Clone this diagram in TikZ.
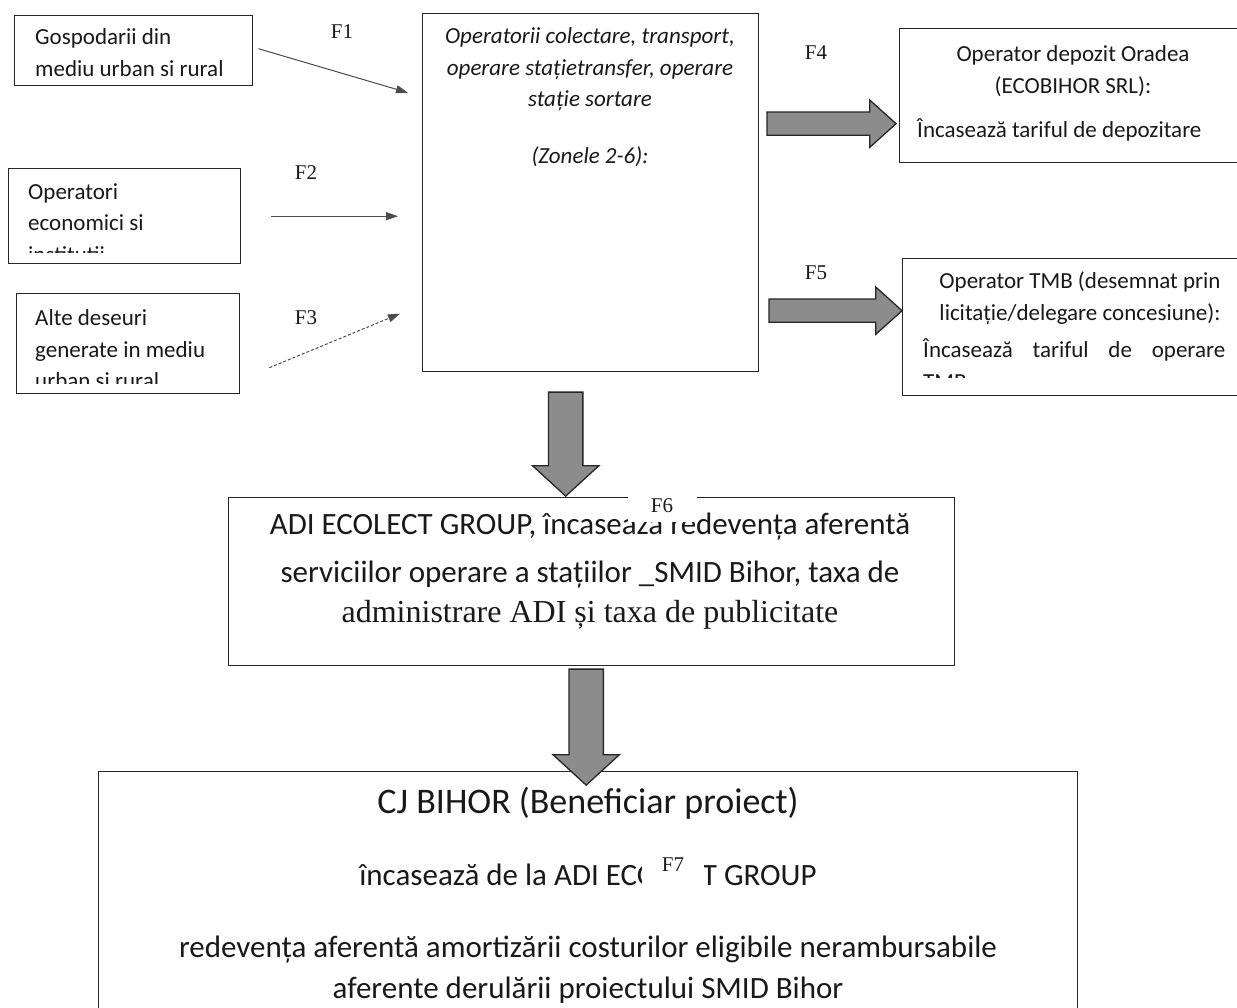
\documentclass[tikz,border=0pt]{standalone}
\usepackage{fontspec}
\setmainfont{Carlito}
\newfontfamily\timesfont{Liberation Serif}
\usetikzlibrary{positioning, calc, arrows.meta, shapes.arrows}

\tikzset{
  box/.style = {draw=black!85, line width=1.4pt, rectangle, inner sep=0pt, anchor=north west},
  txt/.style = {font=\fontsize{23}{31.5}\selectfont, inner sep=0pt, text=black!90},
  flabel/.style = {font=\timesfont\fontsize{21}{21}\selectfont, inner sep=0pt, text=black!90},
  flow/.style = {draw=black!70, line width=1pt, -{Triangle[length=12pt, width=8pt]}},
  fat/.style = {single arrow, draw=black!85, line width=1.3pt, fill=black!45, inner xsep=0pt, single arrow head indent=0pt},
  fatside/.style = {fat, inner ysep=11pt, single arrow head extend=12pt, single arrow tip angle=84},
  fatdown/.style = {fat, rotate=-90, inner ysep=16.5pt, single arrow head extend=16pt, single arrow tip angle=95},
}

\begin{document}
\begin{tikzpicture}[x=1pt, y=-1pt]
\useasboundingbox[fill=white] (0,0) rectangle (1237,1008);

% boxes
\node[box, minimum width=238pt, minimum height=70pt] (gosp) at (14,15) {};
\node[box, minimum width=232pt, minimum height=95pt] (econ) at (8,168) {};
\node[box, minimum width=223pt, minimum height=100pt] (alte) at (16,293) {};
\node[box, minimum width=336pt, minimum height=358pt] (oper) at (422,13) {};
\node[box, minimum width=346pt, minimum height=134pt] (depozit) at (899,28) {};
\node[box, minimum width=346pt, minimum height=137pt] (tmb) at (902,258) {};
\node[box, minimum width=726pt, minimum height=168pt] (adi) at (228,497) {};
\node[box, minimum width=979pt, minimum height=260pt] (cj) at (98,771) {};

% texts
\node[txt, align=left, anchor=west] (gosptxt) at (35,52.5) {Gospodarii din\\mediu urban si rural};
\begin{scope}
  \clip (econ.north west) rectangle ($(econ.south east)+(0,-12)$);
  \node[txt, align=left, anchor=west] (econtxt) at (28,223) {Operatori\\economici si\\institutii};
\end{scope}
\begin{scope}
  \clip (alte.north west) rectangle ($(alte.south east)+(0,-11)$);
  \node[txt, align=left, anchor=west] (altetxt) at (35,349.5) {Alte deseuri\\generate in mediu\\urban si rural};
\end{scope}
\node[txt, font=\itshape\fontsize{23}{31.5}\selectfont, align=center] (opertxt) at (590,97)
  {Operatorii colectare, transport,\\operare stațietransfer, operare\\stație sortare\\[25pt](Zonele 2-6):};
\node[txt, align=center] (depotitle) at (1073,71) {Operator depozit Oradea\\(ECOBIHOR SRL):};
\node[txt, anchor=west] (depotxt) at (917,130) {Încasează tariful de depozitare};
\node[txt, align=center] (tmbtitle) at (1080,298) {Operator TMB (desemnat prin\\licitație/delegare concesiune):};
\begin{scope}
  \clip (tmb.north west) rectangle ($(tmb.south east)+(0,-19)$);
  \node[txt, align=left, anchor=west] (tmbtxt) at (923,364) {\makebox[302pt][s]{Încasează tariful de operare}\\TMB};
\end{scope}
\node[txt, font=\fontsize{31}{48}\selectfont, align=center] (aditxt) at (590,571)
  {ADI ECOLECT GROUP, încasează redevența aferentă\\serviciilor operare a stațiilor \_SMID Bihor, taxa de\\[-8pt]{\timesfont\fontsize{32}{40}\selectfont administrare ADI și taxa de publicitate}};
\node[txt, font=\fontsize{31}{41}\selectfont, align=center] (cjtxt) at (588,895.5)
  {{\fontsize{36}{41}\selectfont CJ BIHOR (Beneficiar proiect)}\\[31pt]încasează de la ADI ECOLECT GROUP\\[31pt]redevența aferentă amortizării costurilor eligibile nerambursabile\\aferente derulării proiectului SMID Bihor};

% thin arrows F1-F3
\draw[flow] ($(gosp.east)+(5,-2)$) -- ($(oper.west)+(-14,-100)$);
\draw[flow, shorten <=30pt, shorten >=24pt] (econ.east) -- (econ.east -| oper.west);
\draw[flow, dash pattern=on 3pt off 2pt] ($(alte.east)+(29,24)$) -- ($(oper.west)+(-22,121)$);

% fat arrows F4-F7
\node[fatside, minimum height=129pt, anchor=tip] (f4arrow) at ($(depozit.west)+(-2,28)$) {};
\node[fatside, minimum height=133pt, anchor=tip] (f5arrow) at ($(tmb.west)+(1,-16.5)$) {};
\node[fatdown, minimum height=104pt, anchor=tip] (f6arrow) at ($(adi.north)+(-26,0)$) {};
\node[fatdown, minimum height=116pt, anchor=tip] (f7arrow) at ($(cj.north)+(-2,15)$) {};

% labels
\node[flabel] (f1) at (342,32) {F1};
\node[flabel] (f2) at (306,173) {F2};
\node[flabel] (f3) at (306,318) {F3};
\node[flabel] (f4) at (816,53) {F4};
\node[flabel] (f5) at (816,273) {F5};
\node[flabel, fill=white, minimum width=69pt, minimum height=32pt] (f6) at (662,506) {F6};
\node[flabel, fill=white, minimum width=62pt, minimum height=46pt, text depth=24pt] (f7) at (673,877) {F7};
\end{tikzpicture}
\end{document}
